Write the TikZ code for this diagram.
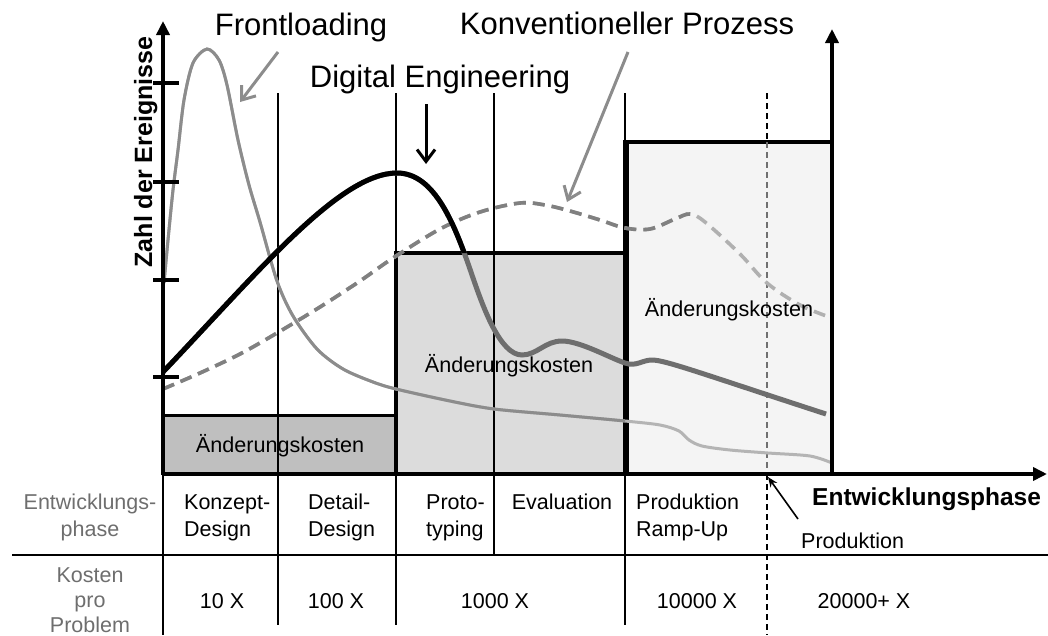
\documentclass[tikz,border=0pt]{standalone}
\usepackage{fontspec}
\setmainfont{Liberation Sans}
\usetikzlibrary{arrows.meta}

\definecolor{boxdark}{HTML}{BFBFBF}
\definecolor{boxmid}{HTML}{DCDCDC}
\definecolor{boxlight}{HTML}{F4F4F4}
\definecolor{frontdark}{HTML}{8C8C8C}
\definecolor{frontlight}{HTML}{B4B4B4}
\definecolor{digigray}{HTML}{6E6E6E}
\definecolor{convdark}{HTML}{808080}
\definecolor{convlight}{HTML}{B0B0B0}
\definecolor{rowgray}{HTML}{6E6E6E}
\definecolor{dashgray}{HTML}{707070}

% curve data (x to the right, y downwards)
\newcommand{\frontpath}{plot[smooth,tension=0.5] coordinates {
  (164,283) (168,240) (173,190) (178,150) (184,100) (193,63) (207,49) (219,60)
  (227,85) (238,140) (249,185) (260,222) (277,281) (293,316) (317,349)
  (343,369) (373,382) (396,389) (450,401) (494,409) (560,415) (625,421)
  (660,425) (679,431) (689,440) (702,446) (730,450) (768,453) (810,456)
  (832,463)}}
\newcommand{\digitalpath}{(163,372) .. controls (260,270) and (340,173) .. (397,173)
  .. controls (435,173) and (455,225) .. (472,275)
  .. controls (483,307) and (500,355) .. (522,355)
  .. controls (537,355) and (545,341) .. (562,341)
  .. controls (580,341) and (610,358) .. (625,363)
  .. controls (636,367) and (642,360) .. (652,360)
  .. controls (665,360) and (700,373) .. (826,414)}
\newcommand{\convpath}{plot[smooth,tension=0.55] coordinates {
  (163,389) (200,373) (240,354) (277,333) (320,307) (360,281) (393,258)
  (440,229) (480,212) (520,203) (545,205) (570,211) (600,220) (625,228)
  (650,229) (675,219) (690,214) (705,222) (740,254) (767,283) (800,305)
  (832,318)}}

\begin{document}
\begin{tikzpicture}[x=1pt,y=-1pt,
  title/.style={font=\fontsize{31}{37}\selectfont, anchor=base, inner sep=0pt},
  costlabel/.style={font=\fontsize{21.6}{26}\selectfont, anchor=base, inner sep=0pt},
  cell/.style={font=\fontsize{21.5}{27}\selectfont, anchor=base, inner sep=0pt},
  cellleft/.style={cell, anchor=base west},
  rowhead/.style={cell, text=rowgray},
  boldlabel/.style={font=\bfseries\fontsize{25}{30}\selectfont, inner sep=0pt},
  thinline/.style={line width=1.5pt},
  axisline/.style={line width=3.6pt, -{Triangle[length=14pt,width=13pt]}},
  tickline/.style={line width=3.4pt},
  pointer/.style={line width=3pt, -{Straight Barb[length=12pt,width=18pt]}},
  phasedash/.style={line width=1.6pt, dash pattern=on 6pt off 4pt}
]
\useasboundingbox (0,0) rectangle (1048,635);

% cost boxes
\filldraw[fill=boxdark, line width=3pt] (163,415) rectangle (396,474);
\filldraw[fill=boxmid, line width=3.4pt] (396,253) rectangle (625,474);
\filldraw[fill=boxlight, line width=3.4pt] (625,142) rectangle (832,474);
\draw[line width=5.5pt] (626,142) -- (626,474);

% phase separators
\draw[thinline] (278,93) -- (278,625);
\draw[thinline] (396,93) -- (396,625);
\draw[thinline] (494,93) -- (494,555);
\draw[thinline] (625,93) -- (625,625);
\draw[line width=2pt] (163,474) -- (163,635);
\draw[thinline] (12,555) -- (1048,555);
\draw[phasedash] (767,93) -- (767,142);
\draw[phasedash, dashgray, line width=1.4pt] (767,142) -- (767,474);
\draw[phasedash] (767,474) -- (767,635);

% Frontloading curve
\draw[frontlight, line width=3pt] \frontpath;
\begin{scope}
  \clip (0,0) rectangle (625,635);
  \draw[frontdark, line width=3pt] \frontpath;
\end{scope}

% conventional process (dashed)
\draw[convlight, line width=3.6pt, dash pattern=on 12pt off 7pt] \convpath;
\begin{scope}
  \clip (0,0) rectangle (690,635);
  \draw[convdark, line width=3.6pt, dash pattern=on 12pt off 7pt] \convpath;
\end{scope}

% Digital Engineering curve
\draw[digigray, line width=5pt] \digitalpath;
\begin{scope}
  \clip (0,0) -- (1048,0) -- (1048,253) -- (396,253) -- (396,635) -- (0,635) -- cycle;
  \draw[black, line width=5pt] \digitalpath;
\end{scope}

% axes
\draw[axisline] (163,475) -- (163,21);
\draw[axisline] (832,475) -- (832,29);
\draw[axisline] (161.5,474) -- (1047,474);
\foreach \ty in {83,182,280,377}
  \draw[tickline] (153,\ty) -- (179,\ty);

% headings and pointers
\node[title] (front) at (301,35) {Frontloading};
\node[title] (conv) at (627,34) {Konventioneller Prozess};
\node[title] (digi) at (440,87) {Digital Engineering};
\coordinate (frontfrom) at (278,52);
\coordinate (fronttip) at (240,102);
\coordinate (convfrom) at (628,52);
\coordinate (convtip) at (567,202);
\coordinate (digifrom) at (426,104);
\coordinate (digitip) at (426,164);
\draw[pointer, frontdark] (frontfrom) -- (fronttip);
\draw[pointer, frontdark] (convfrom) -- (convtip);
\draw[pointer, black] (digifrom) -- (digitip);

% axis labels
\node[boldlabel, rotate=90, anchor=base] (ylab) at (152,152) {Zahl der Ereignisse};
\node[boldlabel, anchor=base west, font=\bfseries\fontsize{24.5}{30}\selectfont] (xlab) at (812,505) {Entwicklungsphase};

% change costs
\node[costlabel] (cost1) at (280,452) {Änderungskosten};
\node[costlabel] (cost2) at (509,372) {Änderungskosten};
\node[costlabel] (cost3) at (729,316) {Änderungskosten};

% production marker
\node[cell, anchor=base west] (prod) at (801,548) {Produktion};
\coordinate (prodfrom) at (798,519);
\coordinate (prodtip) at (768,477);
\draw[line width=1.6pt, -{Stealth[length=10pt,width=8pt]}] (prodfrom) -- (prodtip);

% table: development phases
\node[rowhead] (rh1a) at (90,509) {Entwicklungs-};
\node[rowhead] (rh1b) at (90,536) {phase};
\node[cellleft] (p1a) at (184,509) {Konzept-};
\node[cellleft] (p1b) at (184,536) {Design};
\node[cellleft] (p2a) at (308,509) {Detail-};
\node[cellleft] (p2b) at (308,536) {Design};
\node[cellleft] (p3a) at (426,509) {Proto-};
\node[cellleft] (p3b) at (426,536) {typing};
\node[cell] (p4) at (562,509) {Evaluation};
\node[cellleft] (p5a) at (636,509) {Produktion};
\node[cellleft] (p5b) at (636,536) {Ramp-Up};

% table: cost per problem
\node[rowhead] (rh2a) at (90,582) {Kosten};
\node[rowhead] (rh2b) at (90,607) {pro};
\node[rowhead] (rh2c) at (90,632) {Problem};
\node[cell] (c1) at (222,608) {10 X};
\node[cell] (c2) at (336,608) {100 X};
\node[cell] (c3) at (495,608) {1000 X};
\node[cell] (c4) at (697,608) {10000 X};
\node[cell] (c5) at (864,608) {20000+ X};
\end{tikzpicture}
\end{document}
